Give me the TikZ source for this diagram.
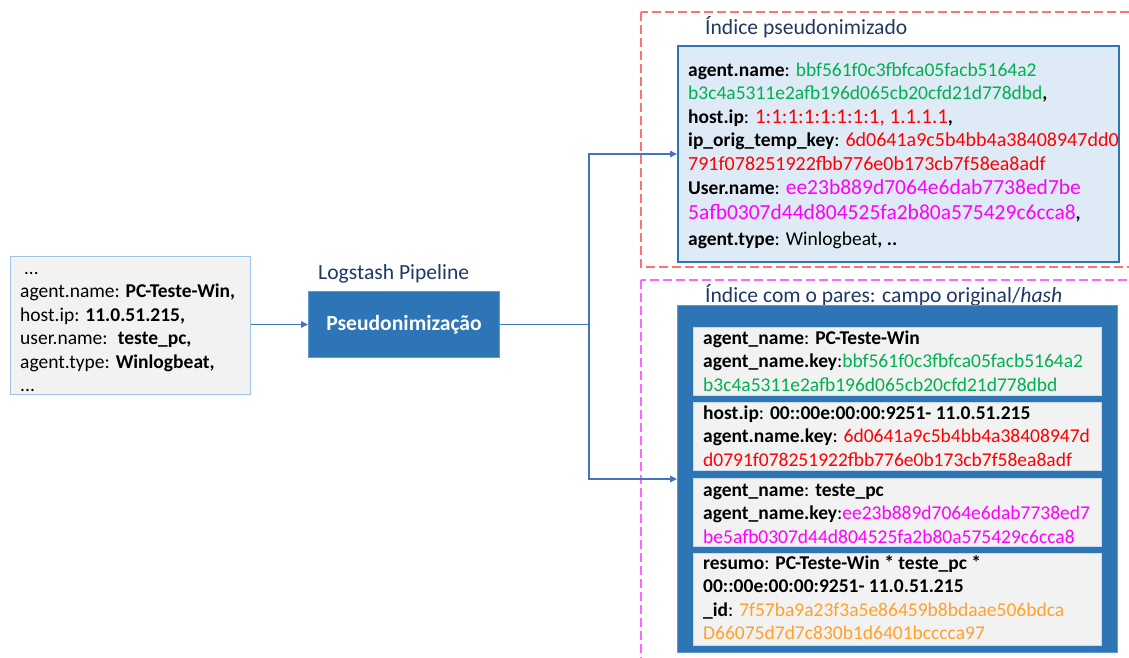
\documentclass[tikz,border=0pt]{standalone}
\usepackage{fontspec}
\setmainfont{Carlito}
\usetikzlibrary{arrows.meta}

\definecolor{panelgray}{HTML}{F2F2F2}
\definecolor{panelline}{HTML}{9DC3E6}
\definecolor{stepblue}{HTML}{2E75B6}
\definecolor{stepline}{HTML}{5B9BD5}
\definecolor{idxfill}{HTML}{DEEBF7}
\definecolor{innerline}{HTML}{C9DBEC}
\definecolor{navy}{HTML}{1F3864}
\definecolor{flow}{HTML}{4472C4}
\definecolor{hgreen}{HTML}{00B050}
\definecolor{hred}{HTML}{FF0000}
\definecolor{hmag}{HTML}{FF00FF}
\definecolor{horange}{HTML}{FFA22B}
\definecolor{dashred}{HTML}{FF7272}
\definecolor{dashpink}{HTML}{FF66FF}

% font size with a block-wide line distance \bls
\def\bls{23.5}
\newcommand\sz[1]{\fontsize{#1}{\bls}\selectfont}

\tikzset{
  panel/.style={draw=panelline, line width=1.2pt, fill=panelgray, anchor=north west, inner sep=0pt},
  stepbox/.style={draw=stepline, line width=1pt, fill=stepblue, anchor=north west, inner sep=0pt},
  idxbox/.style={draw=stepblue, line width=2pt, fill=idxfill, anchor=north west, inner sep=0pt},
  pairbox/.style={draw=stepline, line width=1pt, fill=stepblue, anchor=north west, inner sep=0pt},
  pairitem/.style={draw=innerline, line width=1pt, fill=panelgray, anchor=north west, inner sep=0pt,
    minimum width=408pt},
  body/.style={anchor=north west, inner sep=0pt, align=left, font=\sz{19.5}},
  caption/.style={anchor=base west, inner sep=0pt, text=navy, font=\fontsize{21.6}{26}\selectfont},
  flowline/.style={draw=flow, line width=1.5pt},
  flowarrow/.style={flowline, -{Triangle[length=7pt,width=6.5pt]}},
  zone/.style={line width=1.8pt, dash pattern=on 9pt off 4pt},
}

\begin{document}
\begin{tikzpicture}[x=1pt,y=-1pt]
\useasboundingbox (0,0) rectangle (1129,658);

% dashed zones (open past the right and lower edges)
\begin{scope}
  \clip (0,0) rectangle (1129,658);
  \draw[zone, draw=dashred] (641,12) rectangle (1150,267);
  \draw[zone, draw=dashpink] (641,280) rectangle (1150,690);
\end{scope}

% incoming event
\node[panel, minimum width=240pt, minimum height=138pt] (event) at (10,256) {};
\node[body] (eventtxt) at (20,258.6) {\def\bls{22}\sz{19}%
  \hspace*{4pt}\strut...\\
  agent.name: \textbf{PC-Teste-Win,}\\
  host.ip: \textbf{11.0.51.215,}\\
  user.name: \ \textbf{teste\_pc,}\\
  agent.type: \textbf{Winlogbeat,}\\
  ...};

% pipeline step
\node[caption] (pipecap) at (318,279) {Logstash Pipeline};
\node[stepbox, minimum width=191pt, minimum height=66pt] (pseudo) at (308,291) {};
\node[text=white, inner sep=0pt, font=\fontsize{21.6}{26}\selectfont\bfseries] (pseudotxt) at (pseudo.center) {Pseudonimização};

% pseudonymised index
\node[caption] (idxcap) at (705,35) {Índice pseudonimizado};
\node[idxbox, minimum width=441pt, minimum height=216pt] (idx) at (677,45) {};
\node[body] (idxtxt) at (688,59.2) {\def\bls{24}\sz{19.5}%
  \strut\textbf{agent.name}: \textcolor{hgreen}{bbf561f0c3fbfca05facb5164a2}\\
  \textcolor{hgreen}{b3c4a5311e2afb196d065cb20cfd21d778dbd}\textbf{,}\\
  \textbf{host.ip}: {\sz{21}\textcolor{hred}{1:1:1:1:1:1:1:1, 1.1.1.1}}\textbf{,}\\
  \textbf{ip\_orig\_temp\_key}: {\sz{20}\textcolor{hred}{6d0641a9c5b4bb4a38408947dd0}}\\
  {\sz{20}\textcolor{hred}{791f078251922fbb776e0b173cb7f58ea8adf}}\\[1pt]
  \textbf{User.name}: {\sz{21.5}\textcolor{hmag}{ee23b889d7064e6dab7738ed7be}}\\[1pt]
  {\sz{21.5}\textcolor{hmag}{5afb0307d44d804525fa2b80a575429c6cca8}}\textbf{,}\\[3pt]
  \textbf{agent.type}: Winlogbeat\textbf{, ..}};

% index of original/hash pairs
\node[caption] (paircap) at (705,302) {Índice com o pares: campo original/\textit{hash}};
\node[pairbox, minimum width=440pt, minimum height=347pt] (pairs) at (677,305) {};

\node[pairitem, minimum height=68pt] (p1) at (693,327) {};
\node[body] (p1txt) at (703,327.5) {%
  \strut\textbf{agent\_name}: \textbf{PC-Teste-Win}\\
  \textbf{agent\_name.key}:\textcolor{hgreen}{bbf561f0c3fbfca05facb5164a2}\\
  \textcolor{hgreen}{b3c4a5311e2afb196d065cb20cfd21d778dbd}};

\node[pairitem, minimum height=68pt] (p2) at (693,402) {};
\node[body] (p2txt) at (703,402.5) {%
  \strut\textbf{host.ip}: \textbf{00::00e:00:00:9251- 11.0.51.215}\\
  \textbf{agent.name.key}: \textcolor{hred}{6d0641a9c5b4bb4a38408947d}\\
  \textcolor{hred}{d0791f078251922fbb776e0b173cb7f58ea8adf}};

\node[pairitem, minimum height=68pt] (p3) at (693,478) {};
\node[body] (p3txt) at (703,479.5) {%
  \strut\textbf{agent\_name}: \textbf{teste\_pc}\\
  \textbf{agent\_name.key}:\textcolor{hmag}{ee23b889d7064e6dab7738ed7}\\
  \textcolor{hmag}{be5afb0307d44d804525fa2b80a575429c6cca8}};

\node[pairitem, minimum height=92pt] (p4) at (693,553) {};
\node[body] (p4txt) at (703,552.5) {%
  \strut\textbf{resumo}: \textbf{PC-Teste-Win * teste\_pc *}\\
  \textbf{00::00e:00:00:9251- 11.0.51.215}\\
  \textbf{\_id}: \textcolor{horange}{7f57ba9a23f3a5e86459b8bdaae506bdca}\\
  \textcolor{horange}{D66075d7d7c830b1d6401bcccca97}};

% connectors
\path (pseudo.east) ++(89,0) coordinate (fork);
\draw[flowarrow] (event.east |- pseudo.west) -- (pseudo.west);
\draw[flowline] (pseudo.east) -- (fork);
\draw[flowarrow] (fork) |- (idx.west);
\draw[flowarrow] (fork) |- (pairs.west);
\end{tikzpicture}
\end{document}
